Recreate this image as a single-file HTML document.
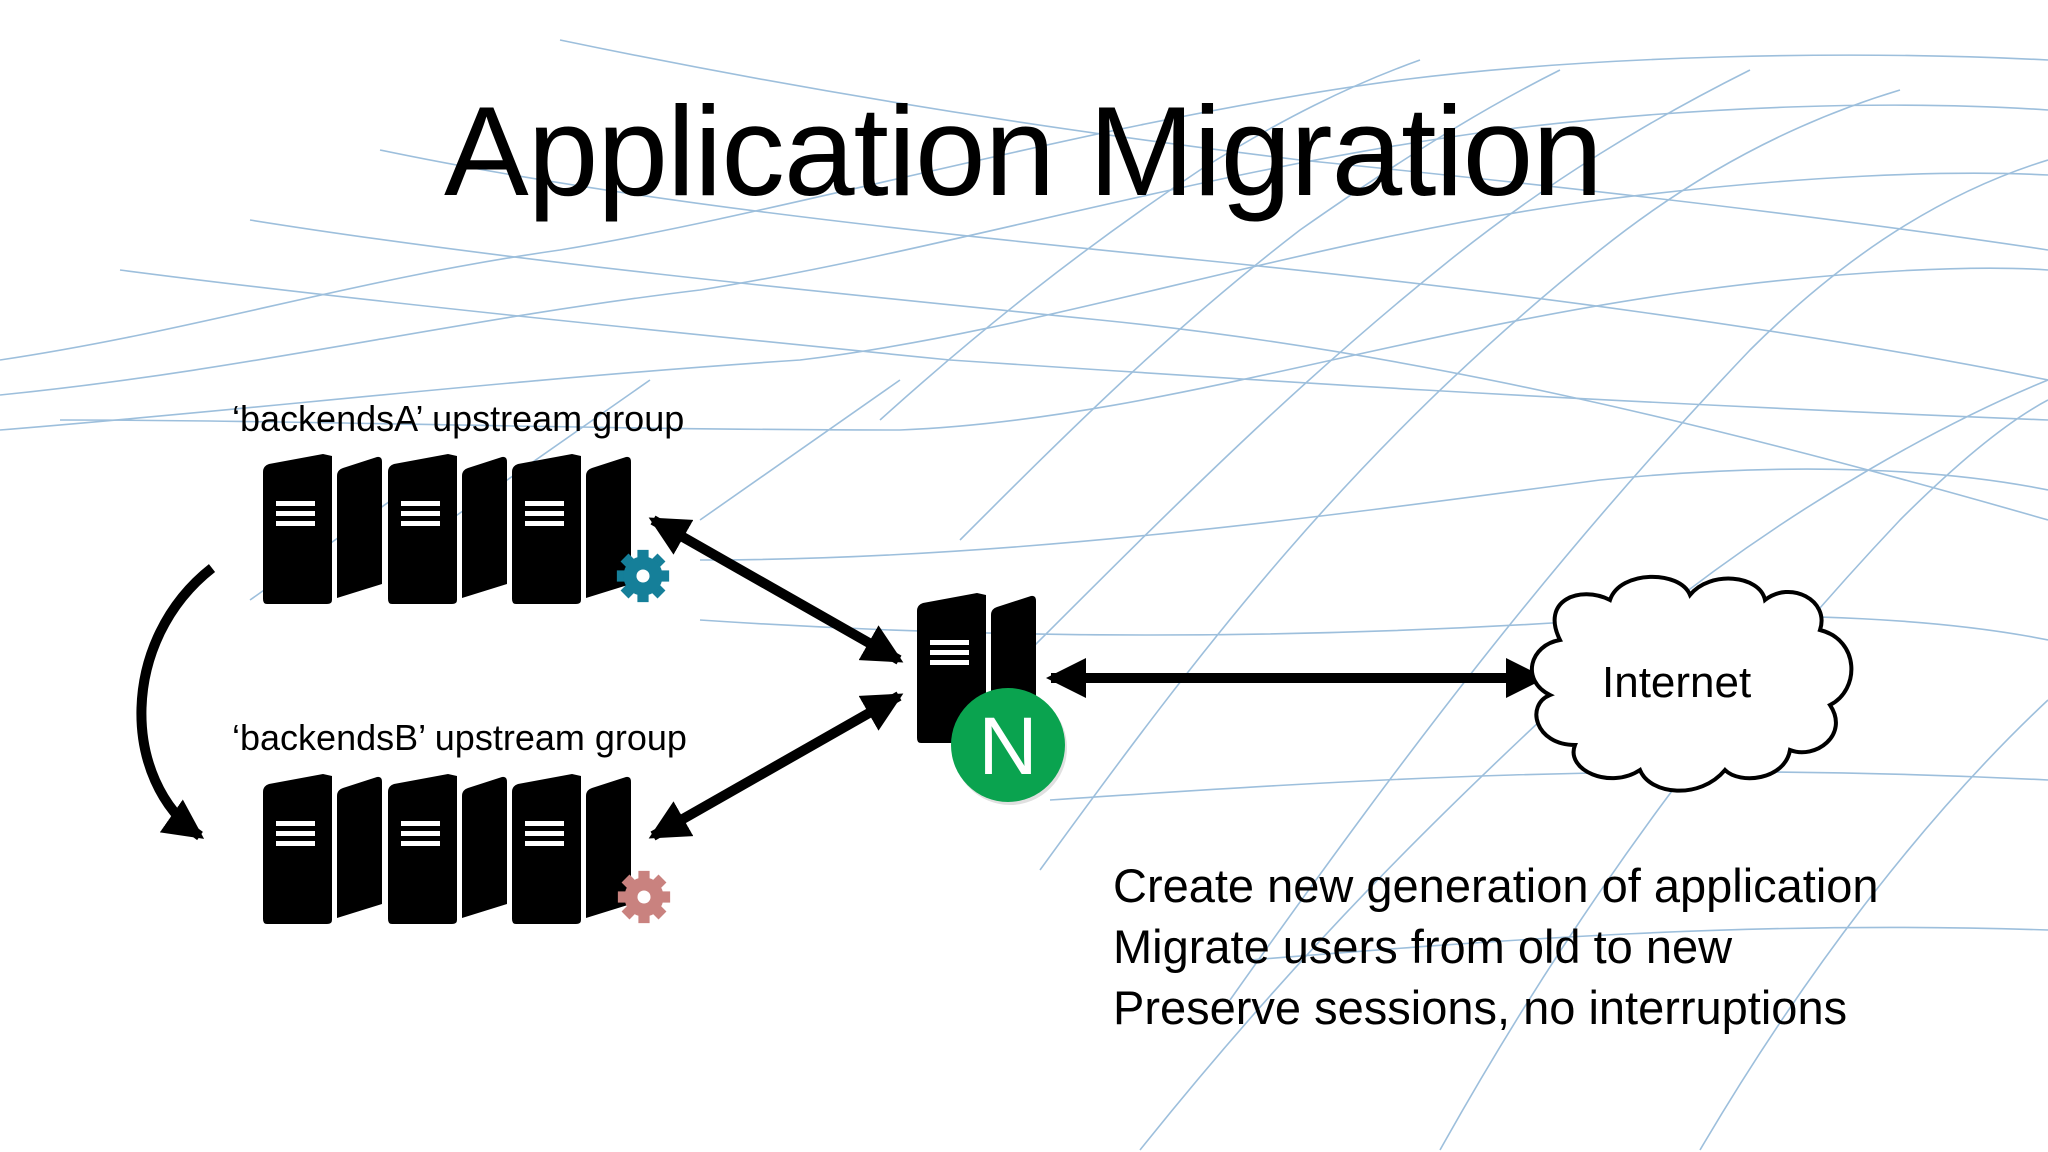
<!DOCTYPE html>
<html><head><meta charset="utf-8"><style>
html,body{margin:0;padding:0;background:#fff}
#c{position:relative;width:2048px;height:1152px;overflow:hidden;background:#fff;font-family:"Liberation Sans",sans-serif}
.t{position:absolute;white-space:nowrap;color:#000}
</style></head><body><div id="c">
<svg width="2048" height="1152" style="position:absolute;left:0;top:0">
<defs>
<symbol id="srv" viewBox="0 0 122 152">
<path d="M2,18 Q2,12 8,10 L62,0 L71,2 L71,146 Q71,150 66,150 L6,150 Q2,150 2,145 Z" fill="#000"/>
<path d="M76,22 Q76,16 82,14 L116,3 Q121,2 121,8 L121,130 L76,144 Z" fill="#000"/>
<rect x="15" y="47" width="39" height="5" fill="#fff"/>
<rect x="15" y="57" width="39" height="5" fill="#fff"/>
<rect x="15" y="67" width="39" height="5" fill="#fff"/>
</symbol>
<symbol id="gear" viewBox="-30 -30 60 60">
<g>
<rect x="-6" y="-28" width="12" height="56"/>
<rect x="-6" y="-28" width="12" height="56" transform="rotate(45)"/>
<rect x="-6" y="-28" width="12" height="56" transform="rotate(90)"/>
<rect x="-6" y="-28" width="12" height="56" transform="rotate(135)"/>
<circle r="21"/>
</g>
<circle r="7" fill="#fff"/>
</symbol>
<marker id="ah" markerWidth="4" markerHeight="4" refX="3.5" refY="2" orient="auto-start-reverse" markerUnits="strokeWidth"><path d="M0,0 L4,2 L0,4 Z" fill="#000"/></marker>
</defs>
<g fill="none" stroke="#9dbfdc" stroke-width="1.6">
<path d="M0,360 C200,330 350,280 560,250 C800,210 1100,120 1400,80 C1600,55 1850,50 2048,60"/>
<path d="M0,395 C250,370 450,320 700,290 C950,250 1200,170 1500,130 C1700,105 1900,100 2048,110"/>
<path d="M0,430 C250,410 500,380 800,360 C1050,330 1300,240 1600,200 C1800,175 1950,170 2048,175"/>
<path d="M60,420 C300,420 600,430 900,430 C1150,420 1400,330 1700,290 C1850,270 1980,265 2048,270"/>
<path d="M120,270 C350,300 650,330 950,360 C1250,380 1550,400 2048,420"/>
<path d="M250,220 C500,260 800,290 1100,320 C1400,350 1700,420 2048,520"/>
<path d="M380,150 C620,200 900,230 1200,260 C1500,290 1800,330 2048,380"/>
<path d="M560,40 C800,90 1050,130 1300,160 C1600,190 1850,220 2048,250"/>
<path d="M700,560 C1000,560 1300,520 1600,480 C1800,460 1950,470 2048,490"/>
<path d="M700,620 C1000,640 1300,640 1600,620 C1800,610 1950,620 2048,640"/>
<path d="M1050,800 C1350,780 1650,760 2048,780"/>
<path d="M1250,960 C1500,940 1750,920 2048,930"/>
<path d="M250,600 L420,480 M450,520 L650,380 M700,520 L900,380"/>
<path d="M1040,870 C1200,650 1350,450 1600,250 C1700,170 1800,120 1900,90"/>
<path d="M1230,1000 C1400,760 1550,560 1750,350 C1850,250 1950,190 2048,160"/>
<path d="M1440,1150 C1580,900 1730,700 1900,520 C1960,460 2010,420 2048,400"/>
<path d="M1700,1150 C1800,980 1920,820 2048,700"/>
<path d="M1030,650 C1180,500 1300,380 1450,260 C1550,180 1650,120 1750,70"/>
<path d="M960,540 C1070,430 1170,330 1300,230 C1400,160 1480,110 1560,70"/>
<path d="M880,420 C980,330 1080,250 1200,170 C1280,120 1350,85 1420,60"/>
<path d="M1140,1150 C1300,950 1450,800 1650,620 C1800,500 1950,420 2048,380"/>
</g>
<g fill="#000">
<use href="#srv" x="261" y="454" width="122" height="152"/>
<use href="#srv" x="386" y="454" width="122" height="152"/>
<use href="#srv" x="510" y="454" width="122" height="152"/>
<use href="#srv" x="261" y="774" width="122" height="152"/>
<use href="#srv" x="386" y="774" width="122" height="152"/>
<use href="#srv" x="510" y="774" width="122" height="152"/>
<use href="#srv" x="915" y="593" width="122" height="152"/>
</g>
<use href="#gear" x="615" y="548" width="56" height="56" fill="#157f99"/>
<use href="#gear" x="616" y="869" width="56" height="56" fill="#c9827f"/>
<circle cx="1010" cy="748" r="57" fill="#ccc" opacity="0.6"/>
<circle cx="1008" cy="745" r="57" fill="#0aa34f"/>
<text x="1008" y="774" text-anchor="middle" font-family="Liberation Sans,sans-serif" font-size="82" fill="#fff">N</text>
<g stroke="#000" stroke-width="10" fill="none">
<line x1="653" y1="520" x2="899" y2="660" marker-start="url(#ah)" marker-end="url(#ah)"/>
<line x1="653" y1="836" x2="899" y2="696" marker-start="url(#ah)" marker-end="url(#ah)"/>
<line x1="1051" y1="678" x2="1541" y2="678" marker-start="url(#ah)" marker-end="url(#ah)"/>
<path d="M212,568 C120,640 120,780 200,836" marker-end="url(#ah)"/>
</g>
<path d="M1560,640 C1540,600 1580,585 1610,600 C1620,570 1680,570 1690,595 C1710,570 1760,575 1765,600 C1790,580 1830,600 1820,630 C1860,640 1860,690 1830,705 C1850,735 1815,760 1790,750 C1785,780 1740,785 1725,770 C1700,800 1650,795 1640,770 C1610,790 1565,770 1575,745 C1535,745 1525,705 1550,695 C1520,680 1530,645 1560,640 Z" fill="#fff" stroke="#000" stroke-width="4"/>
</svg>
<div class="t" style="left:444px;top:78px;font-size:127px;letter-spacing:-1px">Application Migration</div>
<div class="t" style="left:232px;top:398px;font-size:36px">‘backendsA’ upstream group</div>
<div class="t" style="left:232px;top:717px;font-size:36px">‘backendsB’ upstream group</div>
<div class="t" style="left:1602px;top:658px;font-size:44px">Internet</div>
<div class="t" style="left:1113px;top:855px;font-size:47px;line-height:61px">Create new generation of application<br>Migrate users from old to new<br>Preserve sessions, no interruptions</div>
</div></body></html>
